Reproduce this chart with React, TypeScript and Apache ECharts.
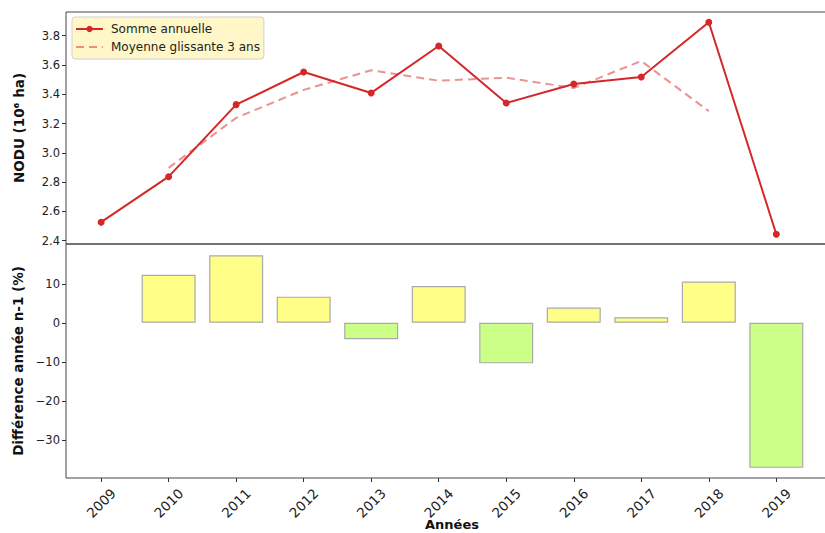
import React, { useEffect, useRef } from "react";
import * as echarts from "echarts";

const years = [2009, 2010, 2011, 2012, 2013, 2014, 2015, 2016, 2017, 2018, 2019];
const annualSum = [2.526, 2.837, 3.329, 3.552, 3.409, 3.73, 3.34, 3.47, 3.518, 3.892, 2.444];
const movingAvg3 = [null, 2.897, 3.239, 3.43, 3.564, 3.493, 3.513, 3.443, 3.627, 3.285, null];
const pctDiff = [null, 12.3, 17.3, 6.7, -4.2, 9.4, -10.4, 3.9, 1.4, 10.6, -37.2];
const topTicks = [2.4, 2.6, 2.8, 3.0, 3.2, 3.4, 3.6, 3.8];
const bottomTicks = [-30, -20, -10, 0, 10];

const FONT = "DejaVu Sans";
const RED = "#d62728";

export default function App() {
  const ref = useRef<HTMLDivElement>(null);
  useEffect(() => {
    if (!ref.current) return;
    const chart = echarts.init(ref.current, null, { renderer: "svg" });
    const xMin = 2008.48;
    const xMax = 2020.18;
    const fmtMinus = (v: number) => (v < 0 ? "\u2212" + Math.abs(v) : String(v));
    chart.setOption({
      animation: false,
      textStyle: { fontFamily: FONT },
      legend: {
        show: true,
        left: 72,
        top: 17,
        orient: "vertical",
        backgroundColor: "#fff7c8",
        borderColor: "#d0d0d0",
        borderWidth: 1,
        borderRadius: 3,
        padding: [5, 4, 5, 3],
        itemGap: 4,
        itemWidth: 27,
        itemHeight: 8,
        textStyle: { fontFamily: FONT, fontSize: 12, color: "#222", padding: [0, 0, 0, 3], lineHeight: 14 },
        data: ["Somme annuelle", "Moyenne glissante 3 ans"],
      },
      grid: [
        { left: 66, width: 790, top: 12, height: 232, show: true, borderColor: "#444", borderWidth: 1, backgroundColor: "transparent", containLabel: false, outerBoundsMode: "none" },
        { left: 66, width: 790, top: 244, height: 234, show: true, borderColor: "#444", borderWidth: 1, backgroundColor: "transparent", containLabel: false, outerBoundsMode: "none" },
      ],
      xAxis: [
        {
          type: "value", gridIndex: 0, min: xMin, max: xMax,
          axisLine: { show: false, onZero: false }, axisTick: { show: false }, axisLabel: { show: false }, splitLine: { show: false },
        },
        {
          type: "value", gridIndex: 1, min: xMin, max: xMax,
          axisLine: { show: false, onZero: false },
          axisTick: { show: true, customValues: years, length: 4, lineStyle: { color: "#333" } },
          axisLabel: {
            customValues: years, rotate: 45, fontSize: 13.5, color: "#222", margin: 25,
            align: "center", verticalAlign: "middle",
            formatter: (v: number) => String(v),
          },
          splitLine: { show: false },
        },
      ],
      yAxis: [
        {
          type: "value", gridIndex: 0, min: 2.377, max: 3.962,
          name: "NODU (10\u2076 ha)", nameLocation: "middle", nameGap: 40,
          nameTextStyle: { fontFamily: FONT, fontSize: 13.5, fontWeight: "bold", color: "#111" },
          axisLine: { show: false, onZero: false },
          axisTick: { show: true, customValues: topTicks, length: 4, lineStyle: { color: "#333" } },
          axisLabel: { customValues: topTicks, fontSize: 11.5, color: "#222", margin: 6, formatter: (v: number) => v.toFixed(1) },
          splitLine: { show: false },
        },
        {
          type: "value", gridIndex: 1, min: -39.8, max: 20.2,
          name: "Différence année n-1 (%)", nameLocation: "middle", nameGap: 40,
          nameTextStyle: { fontFamily: FONT, fontSize: 13.5, fontWeight: "bold", color: "#111" },
          axisLine: { show: false, onZero: false },
          axisTick: { show: true, customValues: bottomTicks, length: 4, lineStyle: { color: "#333" } },
          axisLabel: { customValues: bottomTicks, fontSize: 11.5, color: "#222", margin: 6, formatter: fmtMinus },
          splitLine: { show: false },
        },
      ],
      graphic: [
        {
          type: "text",
          left: 425,
          top: 518,
          style: { text: "Années", fontFamily: FONT, fontSize: 13, fontWeight: "bold", fill: "#111" },
        },
      ],
      series: [
        {
          name: "Somme annuelle", type: "line", xAxisIndex: 0, yAxisIndex: 0,
          data: years.map((y, i) => [y, annualSum[i]]),
          symbol: "circle", symbolSize: 7,
          itemStyle: { color: RED },
          lineStyle: { color: RED, width: 2 },
          z: 3,
        },
        {
          name: "Moyenne glissante 3 ans", type: "line", xAxisIndex: 0, yAxisIndex: 0,
          data: years.map((y, i) => [y, movingAvg3[i]]).filter((d) => d[1] !== null),
          showSymbol: false, symbol: "none",
          itemStyle: { color: "rgba(214,39,40,0.5)", opacity: 0 },
          lineStyle: { color: "rgba(214,39,40,0.5)", width: 2, type: [8, 5], opacity: 1 },
          z: 2,
        },
        {
          name: "diff", type: "bar", xAxisIndex: 1, yAxisIndex: 1,
          barWidth: 54,
          data: years
            .map((y, i) => ({
              value: [y, pctDiff[i]],
              itemStyle: {
                color: (pctDiff[i] as number) >= 0 ? "#ffff88" : "#ccff88",
                borderColor: "#aaaaaa",
                borderWidth: 1.2,
              },
            }))
            .filter((d) => d.value[1] !== null),
        },
      ],
    });
    return () => chart.dispose();
  }, []);
  return <div ref={ref} style={{ position: "absolute", left: 0, top: 0, width: 825, height: 533 }} />;
}
